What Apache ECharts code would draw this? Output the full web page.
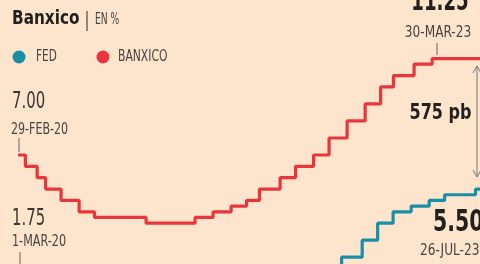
<!DOCTYPE html>
<html><head><meta charset="utf-8">
<script src="https://cdn.jsdelivr.net/npm/echarts@6/dist/echarts.min.js"></script>
<style>html,body{margin:0;padding:0;background:#fce3cb}#c{width:480px;height:264px}</style>
</head><body><div id="c"></div>
<script>
// Data
const banxicoDates = ['2020-02-29','2020-03-20','2020-04-21','2020-05-14','2020-06-25','2020-08-13','2020-09-24','2021-02-11','2021-06-24','2021-08-12','2021-09-30','2021-11-11','2021-12-16','2022-02-10','2022-03-24','2022-05-12','2022-06-23','2022-08-11','2022-09-29','2022-11-10','2022-12-15','2023-02-09','2023-03-30','2023-08-10'];
const banxicoRates = [7.00,6.50,6.00,5.50,5.00,4.50,4.25,4.00,4.25,4.50,4.75,5.00,5.50,6.00,6.50,7.00,7.75,8.50,9.25,10.00,10.50,11.00,11.25,11.25];
const fedDates = ['2020-03-01','2020-03-03','2020-03-15','2022-03-16','2022-05-04','2022-06-15','2022-07-27','2022-09-21','2022-11-02','2022-12-14','2023-02-01','2023-03-22','2023-05-03','2023-07-26','2023-08-10'];
const fedRates = [1.75,1.25,0.25,0.50,1.00,1.75,2.50,3.25,4.00,4.50,4.75,5.00,5.25,5.50,5.50];
const seriesNames = ['FED','BANXICO'];
const titleText = 'Banxico';
const unitText = 'EN %';
const labelStartBanxico = '29-FEB-20';
const labelStartFed = '1-MAR-20';
const labelPeakBanxico = '30-MAR-23';
const labelLastFed = '26-JUL-23';

const RED = '#e8363c', TEAL = '#1a8ea6';
const DARK = '#231f1c', GRAY = '#4a4440';
const NARROW = '"Liberation Sans Narrow","DejaVu Sans Condensed",sans-serif';

const chart = echarts.init(document.getElementById('c'), null, {renderer:'canvas'});
const minT = new Date(2020,1,29).getTime();
const maxT = minT + 1255*86400000;

const banx = banxicoDates.map((d,i)=>[d, banxicoRates[i]]);
const fed = fedDates.map((d,i)=>[d, fedRates[i]]);
const fmt = v => v.toFixed(2);
const spreadBp = Math.round((banxicoRates[22]-fedRates[13])*100);

function txt(x,y,text,font,color,align,scaleX){
  return {type:'text', x:x, y:y, scaleX: scaleX||1,
    style:{text:text, font:font, fill:color, align:align||'left', verticalAlign:'middle'}, z:10};
}

chart.setOption({
  backgroundColor:'#fce4cd',
  animation:false,
  grid:{left:18, right:0, top:41.5, bottom:0, containLabel:false},
  xAxis:{type:'time', min:minT, max:maxT, show:false},
  yAxis:{type:'value', min:2.2, max:12, show:false},
  series:[
    {name:seriesNames[1], type:'line', step:'end', data:banx, symbol:'none', clip:false,
     lineStyle:{color:RED, width:3.2}, z:3},
    {name:seriesNames[0], type:'line', step:'end', data:fed, symbol:'none', clip:false,
     lineStyle:{color:TEAL, width:3.2}, z:4}
  ],
  graphic:[
    txt(12,19,titleText,'bold 20px '+NARROW,DARK,'left',0.85),
    {type:'line', shape:{x1:87,y1:11,x2:87,y2:31}, style:{stroke:'#555',lineWidth:1.3}},
    txt(95,20,unitText,'15px '+NARROW,GRAY,'left',0.68),
    {type:'circle', shape:{cx:19,cy:57,r:6.5}, style:{fill:TEAL}},
    txt(36,57,seriesNames[0],'15px '+NARROW,GRAY,'left',0.78),
    {type:'circle', shape:{cx:103,cy:57,r:6.5}, style:{fill:RED}},
    txt(118,57,seriesNames[1],'15px '+NARROW,GRAY,'left',0.8),
    txt(12,102,fmt(banxicoRates[0]),'23px '+NARROW,'#3a3532','left',0.72),
    txt(11,130,labelStartBanxico,'15px '+NARROW,GRAY,'left',0.82),
    {type:'line', shape:{x1:19,y1:138,x2:19,y2:152}, style:{stroke:'#666',lineWidth:1}},
    txt(12,219,fmt(fedRates[0]),'23px '+NARROW,'#3a3532','left',0.72),
    txt(12,242,labelStartFed,'15px '+NARROW,GRAY,'left',0.83),
    {type:'line', shape:{x1:20,y1:252,x2:20,y2:264}, style:{stroke:'#666',lineWidth:1}},
    txt(440,3,fmt(banxicoRates[22]),'bold 28px '+NARROW,DARK,'center',0.72),
    txt(438,33,labelPeakBanxico,'15px '+NARROW,GRAY,'center',0.9),
    {type:'line', shape:{x1:437,y1:43,x2:437,y2:55}, style:{stroke:'#666',lineWidth:1}},
    txt(440.5,113,spreadBp+' pb','bold 22px '+NARROW,DARK,'center',0.81),
    {type:'line', shape:{x1:477,y1:66,x2:477,y2:177}, style:{stroke:'#777',lineWidth:1}},
    {type:'polyline', shape:{points:[[473,73],[477,66],[481,73]]}, style:{stroke:'#777',lineWidth:1,fill:null}},
    {type:'polyline', shape:{points:[[473,170],[477,177],[481,170]]}, style:{stroke:'#777',lineWidth:1,fill:null}},
    txt(433,223,fmt(fedRates[13]),'bold 30px '+NARROW,DARK,'left',0.76),
    txt(420,251,labelLastFed,'15px '+NARROW,GRAY,'left',0.9)
  ]
});
</script></body></html>
